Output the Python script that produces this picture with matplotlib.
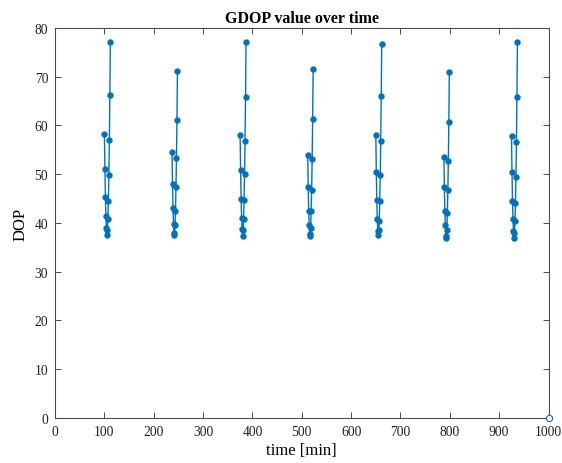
import numpy as np
import matplotlib
matplotlib.use("Agg")
import matplotlib.pyplot as plt

plt.rcParams['font.family'] = ['Liberation Serif', 'DejaVu Serif']

# pass start times (min) and the GDOP values sampled every minute
starts = [100, 237, 375, 512, 650, 788, 925]
passes = [
    [58.3, 51.1, 45.4, 41.5, 39.0, 37.5, 38.5, 40.8, 44.6, 49.8, 57.0, 66.2, 77.1],
    [54.5, 48.0, 43.0, 39.8, 38.0, 37.6, 39.5, 42.5, 47.3, 53.3, 61.2, 71.2],
    [58.0, 50.8, 45.0, 41.0, 38.7, 37.3, 38.5, 40.8, 44.8, 50.0, 56.8, 65.8, 77.1],
    [54.0, 47.3, 42.5, 39.5, 37.8, 37.3, 39.0, 42.5, 46.8, 53.2, 61.3, 71.5],
    [58.0, 50.5, 44.8, 40.8, 38.3, 37.5, 38.5, 40.5, 44.5, 49.8, 56.8, 66.0, 76.8],
    [53.5, 47.3, 42.5, 39.5, 37.3, 37.0, 38.5, 42.0, 46.7, 52.8, 60.8, 71.0],
    [57.8, 50.4, 44.6, 40.8, 38.3, 37.0, 38.0, 40.5, 44.2, 49.4, 56.7, 65.9, 77.1],
]
end_time = [1000]
end_value = [0]

blue = '#0072BD'
axis_gray = '#4d4d4d'

fig = plt.figure(figsize=(5.62, 4.64), dpi=100)
ax = fig.add_axes([0.098, 0.097, 0.878, 0.8405])

for t0, vals in zip(starts, passes):
    t = t0 + np.arange(len(vals))
    ax.plot(t, vals, '-o', color=blue, lw=1.0, ms=3.6)

ax.plot(end_time, end_value, 'o', mfc='white', mec=blue, ms=4.5, mew=0.8, clip_on=False, zorder=5)

ax.set_xlim(0, 1000)
ax.set_ylim(0, 80)
ax.set_xticks(np.arange(0, 1001, 100))
ax.set_yticks(np.arange(0, 81, 10))
ax.tick_params(direction='in', length=4, width=0.7, top=True, right=True,
               colors=axis_gray, labelcolor='#222222', labelsize=9.8, pad=5)
for s in ax.spines.values():
    s.set_color(axis_gray)
    s.set_linewidth(0.8)

ax.set_title('GDOP value over time', fontsize=11.5, fontweight='bold', pad=4)
ax.set_xlabel('time [min]', fontsize=12, labelpad=3)
ax.set_ylabel('DOP', fontsize=12)

fig.savefig('out.png', dpi=100)
